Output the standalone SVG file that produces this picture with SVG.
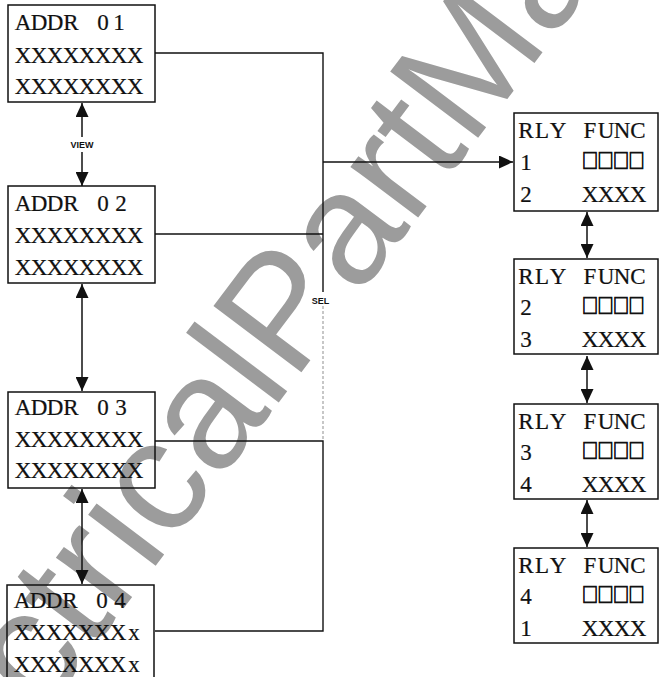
<svg xmlns="http://www.w3.org/2000/svg" width="660" height="677" viewBox="0 0 660 677">
<style>
.wm{font-family:"Liberation Sans",Arial,sans-serif;font-size:160px;fill:#9c9c9c}
.box{fill:none;stroke:#111;stroke-width:1.5}
.m{font-family:"Liberation Serif","Times New Roman",serif;font-size:23px;fill:#111;text-anchor:middle;stroke:#111;stroke-width:0.2}
.sq{font-family:"Noto Sans CJK SC","DejaVu Sans",sans-serif;font-size:16px;fill:#111;text-anchor:middle;stroke:#111;stroke-width:0.8}
.lbl{font-family:"Liberation Sans",Arial,sans-serif;font-size:9px;font-weight:bold;fill:#111}
.ln{fill:none;stroke:#111;stroke-width:1.4}
.ar{fill:none;stroke:#111;stroke-width:1.5;marker-end:url(#ah)}
</style>
<defs>
<marker id="ah" viewBox="0 0 14 13" refX="14" refY="6.5" markerWidth="14" markerHeight="13" markerUnits="userSpaceOnUse" orient="auto"><path d="M0,0 L14,6.5 L0,13 z" fill="#111"/></marker>
</defs>
<text class="wm" transform="translate(-97,901) rotate(-53)">ElectricalPartManuals</text>
<g id="connectors">
<polyline class="ln" points="155,53 323,53 323,292"/>
<line class="ln" x1="155" y1="234" x2="323" y2="234"/>
<line x1="323" y1="306" x2="323" y2="441" stroke="#aaa" stroke-width="1.3" stroke-dasharray="3 2"/>
<polyline class="ln" points="155,441 323,441 323,631 155,631"/>
<line class="ar" x1="323" y1="162" x2="513" y2="162"/>
<line class="ar" x1="82" y1="137" x2="82" y2="103"/>
<line class="ar" x1="82" y1="152" x2="82" y2="186"/>
<line class="ar" x1="82" y1="330" x2="82" y2="284"/>
<line class="ar" x1="82" y1="330" x2="82" y2="391"/>
<line class="ar" x1="82" y1="530" x2="82" y2="489"/>
<line class="ar" x1="82" y1="530" x2="82" y2="584"/>
<line class="ar" x1="587" y1="235" x2="587" y2="212"/>
<line class="ar" x1="587" y1="235" x2="587" y2="258"/>
<line class="ar" x1="587" y1="380" x2="587" y2="356"/>
<line class="ar" x1="587" y1="380" x2="587" y2="403"/>
<line class="ar" x1="587" y1="524" x2="587" y2="500"/>
<line class="ar" x1="587" y1="524" x2="587" y2="547"/>
<text class="lbl" x="82" y="148" text-anchor="middle">VIEW</text>
<text class="lbl" x="320.5" y="304" text-anchor="middle">SEL</text>
</g>
<g id="addr01">
<rect class="box" x="8" y="5" width="147" height="97"/>
<text class="m" x="23 39 55 71 87 103 119" y="30">ADDR 01</text>
<text class="m" x="23 39 55 71 87 103 119 135" y="63">XXXXXXXX</text>
<text class="m" x="23 39 55 71 87 103 119 135" y="94">XXXXXXXX</text>
</g>
<g id="addr02">
<rect class="box" x="8" y="186" width="147" height="97"/>
<text class="m" x="23 39 55 71 87 103 121" y="211">ADDR 02</text>
<text class="m" x="23 39 55 71 87 103 119 135" y="243">XXXXXXXX</text>
<text class="m" x="23 39 55 71 87 103 119 135" y="275">XXXXXXXX</text>
</g>
<g id="addr03">
<rect class="box" x="8" y="392" width="147" height="96"/>
<text class="m" x="23 39 55 71 87 103 121" y="415">ADDR 03</text>
<text class="m" x="23 39 55 71 87 103 119 135" y="447">XXXXXXXX</text>
<text class="m" x="23 39 55 71 87 103 119 135" y="478">XXXXXXXX</text>
</g>
<g id="addr04">
<polyline class="box" points="7,690 7,585 154,585 154,690"/>
<text class="m" x="22 38 54 70 86 102 120" y="608">ADDR 04</text>
<text class="m" x="22 38 54 70 86 102 118 134" y="640">XXXXXXXx</text>
<text class="m" x="22 38 54 70 86 102 118 134" y="672">XXXXXXXx</text>
</g>
<g id="rly1">
<rect class="box" x="514" y="113" width="144" height="98"/>
<text class="m" x="526 542 558 574 590 606 622 638" y="138">RLY FUNC</text>
<text class="m" x="526" y="170">1</text>
<text class="sq" x="590 605.5 621 636.5" y="0" transform="translate(0,168) scale(1,1.2)">□□□□</text>
<text class="m" x="526" y="202">2</text>
<text class="m" x="590 606 622 638" y="202">XXXX</text>
</g>
<g id="rly2">
<rect class="box" x="514" y="259" width="144" height="95"/>
<text class="m" x="526 542 558 574 590 606 622 638" y="284">RLY FUNC</text>
<text class="m" x="526" y="315">2</text>
<text class="sq" x="590 605.5 621 636.5" y="0" transform="translate(0,313) scale(1,1.2)">□□□□</text>
<text class="m" x="526" y="347">3</text>
<text class="m" x="590 606 622 638" y="347">XXXX</text>
</g>
<g id="rly3">
<rect class="box" x="514" y="404" width="144" height="95"/>
<text class="m" x="526 542 558 574 590 606 622 638" y="429">RLY FUNC</text>
<text class="m" x="526" y="460">3</text>
<text class="sq" x="590 605.5 621 636.5" y="0" transform="translate(0,458) scale(1,1.2)">□□□□</text>
<text class="m" x="526" y="492">4</text>
<text class="m" x="590 606 622 638" y="492">XXXX</text>
</g>
<g id="rly4">
<rect class="box" x="514" y="548" width="144" height="95"/>
<text class="m" x="526 542 558 574 590 606 622 638" y="573">RLY FUNC</text>
<text class="m" x="526" y="604">4</text>
<text class="sq" x="590 605.5 621 636.5" y="0" transform="translate(0,602) scale(1,1.2)">□□□□</text>
<text class="m" x="526" y="636">1</text>
<text class="m" x="590 606 622 638" y="636">XXXX</text>
</g>
</svg>
